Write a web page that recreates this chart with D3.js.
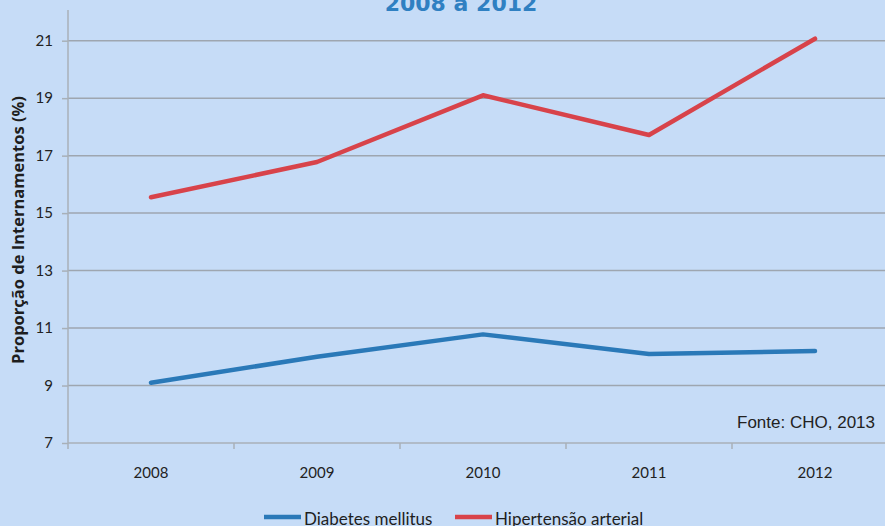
<!DOCTYPE html>
<html><head><meta charset="utf-8">
<script src="https://cdn.jsdelivr.net/npm/d3@7"></script>
<style>html,body{margin:0;padding:0;background:#c6dcf7;overflow:hidden}</style>
</head><body>
<svg id="c" width="885" height="526"></svg>
<script>
const years = ["2008","2009","2010","2011","2012"];
const diabetes = [9.1, 10.0, 10.78, 10.1, 10.2];
const hipertensao = [15.55, 16.78, 19.1, 17.72, 21.07];
const yTicks = [7, 9, 11, 13, 15, 17, 19, 21];
const seriesNames = ["Diabetes mellitus", "Hipertensão arterial"];
const seriesColors = ["#2a79b8", "#d8434a"];

const svg = d3.select("#c");
svg.append("rect").attr("width",885).attr("height",526).attr("fill","#c6dcf7");

const x = d3.scaleBand().domain(years).range([68, 898]);
const y = d3.scaleLinear().domain([7, 21]).range([443, 40.7]);

// gridlines
svg.append("g").selectAll("line").data(yTicks.filter(d=>d>7)).join("line")
  .attr("x1",68).attr("x2",885).attr("y1",d=>y(d)).attr("y2",d=>y(d))
  .attr("stroke","#9ea6b0").attr("stroke-width",1.5);

// y axis
const yAxis = svg.append("g").attr("transform","translate(68,0)")
  .call(d3.axisLeft(y).tickValues(yTicks).tickSize(6).tickPadding(9));
yAxis.select(".domain").attr("d","M0,10V443").attr("stroke","#a8b0b8").attr("stroke-width",1.5);
yAxis.selectAll(".tick line").attr("stroke","#a8b0b8").attr("stroke-width",1.5);
yAxis.selectAll("text").attr("font-family","Lato, sans-serif").attr("font-size",15).attr("fill","#222");

// x axis
const xAxis = svg.append("g").attr("transform","translate(0,443)")
  .call(d3.axisBottom(x).tickSize(0).tickPadding(24));
xAxis.select(".domain").attr("d","M68,0H885").attr("stroke","#a8b0b8").attr("stroke-width",1.5);
xAxis.selectAll("text").attr("font-family","Lato, sans-serif").attr("font-size",15).attr("fill","#222");
svg.append("g").selectAll("line").data(years).join("line")
  .attr("x1",d=>x(d)).attr("x2",d=>x(d)).attr("y1",443).attr("y2",449)
  .attr("stroke","#a8b0b8").attr("stroke-width",1.5);

// lines
const line = d3.line().x((d,i)=>x(years[i])+x.bandwidth()/2).y(d=>y(d));
[diabetes, hipertensao].forEach((s,i)=>{
  svg.append("path").datum(s).attr("d",line).attr("fill","none")
    .attr("stroke",seriesColors[i]).attr("stroke-width",4.5)
    .attr("stroke-linejoin","round").attr("stroke-linecap","round");
});

// title
svg.append("text").attr("x",461).attr("y",11).attr("text-anchor","middle")
  .attr("font-family","DejaVu Sans, sans-serif").attr("font-weight","bold")
  .attr("font-size",22).attr("fill","#2f80c2").text("2008 a 2012");

// y label
svg.append("text").attr("transform","translate(24,230) rotate(-90)")
  .attr("text-anchor","middle").attr("font-family","Open Sans, sans-serif")
  .attr("font-weight","bold").attr("font-size",16.5).attr("fill","#1e1e1e")
  .text("Proporção de Internamentos (%)");

// source
svg.append("text").attr("x",875).attr("y",428).attr("text-anchor","end")
  .attr("font-family","Liberation Sans, Arial, sans-serif").attr("font-size",17)
  .attr("fill","#222").text("Fonte: CHO, 2013");

// legend
const legX = [264, 455];
seriesNames.forEach((n,i)=>{
  const g = svg.append("g").attr("transform",`translate(${legX[i]},517)`);
  g.append("line").attr("x1",0).attr("x2",37).attr("y1",0).attr("y2",0)
    .attr("stroke",seriesColors[i]).attr("stroke-width",4.5);
  g.append("text").attr("x",40).attr("y",8).attr("font-family","Lato, sans-serif")
    .attr("font-size",17).attr("fill","#1e1e1e").text(n);
});
</script>
</body></html>
